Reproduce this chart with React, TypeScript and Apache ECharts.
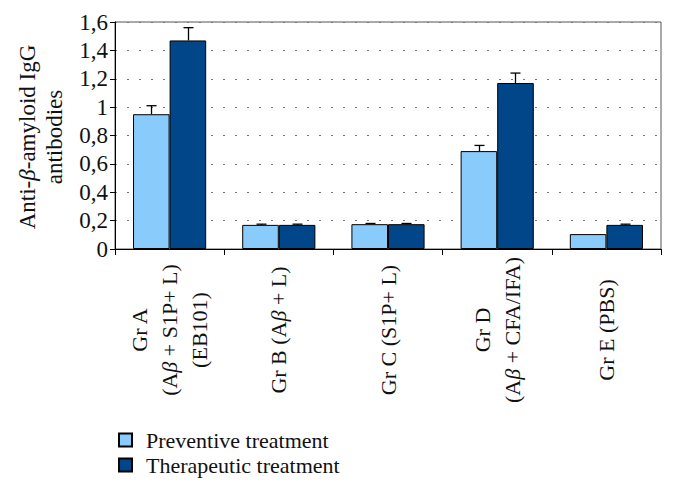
import React, { useEffect, useRef } from "react";
import * as echarts from "echarts";

const categories = [
  "Gr A\n(A{i|β} + S1P+ L)\n(EB101)",
  "Gr B (A{i|β} + L)",
  "Gr C (S1P+ L)",
  "Gr D\n(A{i|β} + CFA/IFA)",
  "Gr E (PBS)",
];
const preventive = [0.95, 0.17, 0.175, 0.69, 0.105];
const preventiveErr = [0.06, 0.005, 0.005, 0.04, 0];
const therapeutic = [1.47, 0.17, 0.175, 1.17, 0.17];
const therapeuticErr = [0.09, 0.005, 0.005, 0.07, 0.005];
const seriesNames = ["Preventive treatment", "Therapeutic treatment"];
const yAxisTitle = "Anti-{i|β}-amyloid IgG\nantibodies";

const FONT = "Liberation Serif";
const GAP = 0.33;

function errorSeries(values: number[], errs: number[], side: number) {
  return {
    type: "custom",
    z: 10,
    silent: true,
    data: values.map((v, i) => [i, v, errs[i]]),
    renderItem: (params: any, api: any) => {
      const idx = api.value(0);
      const v = api.value(1);
      const e = api.value(2);
      if (!e) return { type: "group", children: [] };
      const band = api.size([1, 0])[0];
      const bw = (band * (1 - GAP)) / 2;
      const base = api.coord([idx, v]);
      const top = api.coord([idx, v + e]);
      const x = Math.round(base[0] + (side * bw) / 2) + 0.5;
      const style = { stroke: "#000", lineWidth: 1.3 };
      return {
        type: "group",
        children: [
          { type: "line", shape: { x1: x, y1: base[1], x2: x, y2: top[1] }, style },
          { type: "line", shape: { x1: x - 5, y1: top[1], x2: x + 5, y2: top[1] }, style },
        ],
      };
    },
  };
}

export default function App() {
  const ref = useRef<HTMLDivElement>(null);
  useEffect(() => {
    if (!ref.current) return;
    const chart = echarts.init(ref.current, null, { renderer: "svg" });
    chart.setOption({
      animation: false,
      textStyle: { fontFamily: FONT, color: "#111" },
      grid: {
        left: 115,
        right: 14,
        top: 22,
        bottom: 251,
        show: true,
        borderColor: "#555",
        borderWidth: 1,
        containLabel: false,
        outerBoundsMode: "none",
      },
      graphic: [
        {
          type: "text",
          x: 41,
          y: 137,
          rotation: Math.PI / 2,
          style: {
            text: yAxisTitle,
            fontFamily: FONT,
            fontSize: 23,
            lineHeight: 27,
            fill: "#111",
            align: "center",
            verticalAlign: "middle",
            rich: {
              i: { fontStyle: "italic", fontFamily: FONT, fontSize: 23, lineHeight: 27, fill: "#111" },
            },
          },
        },
      ],
      legend: {
        data: seriesNames,
        orient: "vertical",
        left: 118,
        top: 429,
        padding: 0,
        icon: "rect",
        itemWidth: 13,
        itemHeight: 13,
        itemGap: 3,
        textStyle: { fontFamily: FONT, fontSize: 22, lineHeight: 22, color: "#111", padding: [0, 0, 0, 9] },
      },
      xAxis: {
        type: "category",
        data: categories,
        axisLine: { lineStyle: { color: "#000", width: 1 } },
        axisTick: { show: true, length: 6, lineStyle: { color: "#000" } },
        axisLabel: {
          interval: 0,
          rotate: 90,
          align: "center",
          verticalAlign: "middle",
          margin: 81,
          fontFamily: FONT,
          fontSize: 22,
          lineHeight: 30,
          color: "#111",
          rich: {
            i: { fontStyle: "italic", fontFamily: FONT, fontSize: 22, lineHeight: 30, color: "#111" },
          },
        },
      },
      yAxis: {
        type: "value",
        min: 0,
        max: 1.6,
        interval: 0.2,
        axisLine: { show: true, lineStyle: { color: "#000", width: 1 } },
        axisTick: { show: true, length: 5, lineStyle: { color: "#000" } },
        axisLabel: {
          fontFamily: FONT,
          fontSize: 23,
          color: "#111",
          margin: 7,
          formatter: (v: number) => (Math.round(v * 10) / 10).toString().replace(".", ","),
        },
        splitLine: { show: true, lineStyle: { color: "#777", type: [2, 10], width: 1 } },
      },
      series: [
        {
          name: seriesNames[0],
          type: "bar",
          data: preventive,
          barGap: "0%",
          barCategoryGap: "33%",
          itemStyle: { color: "#89CBFB", borderColor: "#000", borderWidth: 1 },
        },
        {
          name: seriesNames[1],
          type: "bar",
          data: therapeutic,
          barGap: "0%",
          barCategoryGap: "33%",
          itemStyle: { color: "#02468A", borderColor: "#000", borderWidth: 1 },
        },
        errorSeries(preventive, preventiveErr, -1),
        errorSeries(therapeutic, therapeuticErr, 1),
      ],
    });
    return () => chart.dispose();
  }, []);
  return <div ref={ref} style={{ width: 675, height: 500, position: "absolute", left: 0, top: 0 }} />;
}
